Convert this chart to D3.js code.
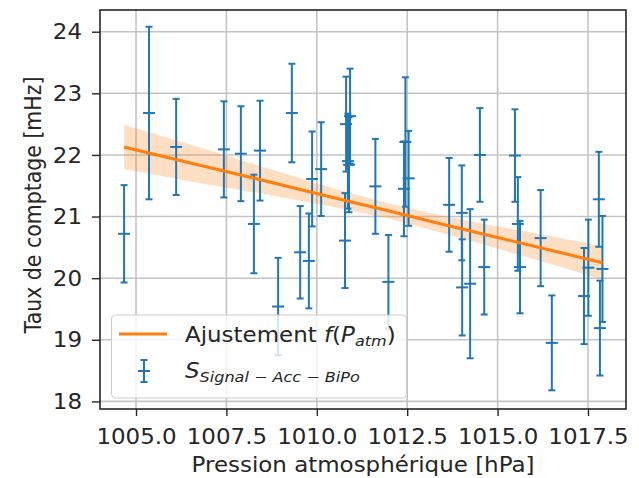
<!DOCTYPE html>
<html>
<head>
<meta charset="utf-8">
<script src="https://cdn.jsdelivr.net/npm/d3@7"></script>
<style>
  html, body { margin: 0; padding: 0; background: #ffffff; }
  svg { display: block; }
  text { font-family: "DejaVu Sans", sans-serif; fill: #262626; }
</style>
</head>
<body>
<svg id="chart" width="639" height="478"></svg>
<script>
// Atmospheric pressure (hPa) of each measurement period
const pressure = [
  1004.67, 1005.36, 1006.11, 1007.43, 1007.90, 1008.26, 1008.43, 1008.93,
  1009.31, 1009.54, 1009.78, 1009.87, 1010.12, 1010.78, 1010.81, 1010.86,
  1010.89, 1010.92, 1011.62, 1011.98, 1012.41, 1012.45, 1012.54, 1013.66,
  1014.01, 1014.02, 1014.24, 1014.51, 1014.63, 1015.48, 1015.56, 1015.62,
  1016.19, 1016.50, 1017.39, 1017.51, 1017.80, 1017.83, 1017.90
];
// Counting rate (mHz) measured in each period
const rate = [
  20.72, 22.68, 22.13, 22.09, 22.02, 20.88, 22.07, 19.54,
  22.68, 20.42, 20.28, 21.61, 21.77, 20.61, 22.50, 21.90,
  21.84, 22.63, 21.49, 19.94, 21.45, 22.21, 21.62, 21.19,
  21.06, 19.85, 19.91, 22.00, 20.18, 21.99, 20.88, 20.18,
  20.65, 18.95, 19.71, 20.17, 21.28, 19.19, 20.15
];
// Statistical uncertainty on each rate (mHz)
const rateErr = [
  0.79, 1.40, 0.78, 0.78, 0.77, 0.80, 0.81, 0.79,
  0.80, 0.75, 0.77, 0.77, 0.76, 0.77, 0.77, 0.77,
  0.77, 0.77, 0.77, 0.76, 0.77, 1.05, 0.77, 0.76,
  0.77, 0.78, 1.21, 0.76, 0.77, 0.75, 0.76, 0.75,
  0.78, 0.77, 0.78, 0.78, 0.77, 0.77, 0.86
];

// Linear fit f(P_atm) and its confidence band
const fitP     = [1004.67, 1006.5, 1008.5, 1010.5, 1012.0, 1013.5, 1015.0, 1016.5, 1017.90];
const fitRate  = [22.13, 21.87, 21.59, 21.30, 21.09, 20.87, 20.66, 20.45, 20.25];
const fitLow   = [21.77, 21.57, 21.37, 21.15, 20.97, 20.73, 20.48, 20.22, 19.98];
const fitHigh  = [22.49, 22.17, 21.81, 21.45, 21.21, 21.01, 20.84, 20.68, 20.52];

const xTicks = [1005.0, 1007.5, 1010.0, 1012.5, 1015.0, 1017.5];
const yTicks = [18, 19, 20, 21, 22, 23, 24];

const blue = "#1f77b4", orange = "#ff7f0e";
const plot = { left: 100, right: 626, top: 10, bottom: 409 };
const fontSize = 20.5, stretch = 1.12;   // glyphs are drawn slightly wide

const svg = d3.select("#chart");
const x = d3.scaleLinear().domain([1004.004, 1018.551]).range([plot.left, plot.right]);
const y = d3.scaleLinear().domain([17.877, 24.352]).range([plot.bottom, plot.top]);

// grid
const grid = svg.append("g");
grid.selectAll(".gx").data(xTicks).join("line")
  .attr("x1", d => x(d)).attr("x2", d => x(d))
  .attr("y1", plot.top).attr("y2", plot.bottom)
  .attr("stroke", "#c4c4c4").attr("stroke-width", 1.6);
grid.selectAll(".gy").data(yTicks).join("line")
  .attr("y1", d => y(d)).attr("y2", d => y(d))
  .attr("x1", plot.left).attr("x2", plot.right)
  .attr("stroke", "#c4c4c4").attr("stroke-width", 1.6);

// confidence band
const band = fitP.map((p, i) => ({ p, lo: fitLow[i], hi: fitHigh[i] }));
svg.append("path").datum(band)
  .attr("d", d3.area().x(d => x(d.p)).y0(d => y(d.lo)).y1(d => y(d.hi)))
  .attr("fill", orange).attr("fill-opacity", 0.25);

// error bars
const pts = pressure.map((p, i) => ({ p, r: rate[i], e: rateErr[i] }));
const eb = svg.append("g").attr("stroke", blue).attr("stroke-width", 2).attr("fill", "none");
const bars = eb.selectAll("g").data(pts).join("g");
bars.append("line")
  .attr("x1", d => x(d.p)).attr("x2", d => x(d.p))
  .attr("y1", d => y(d.r + d.e)).attr("y2", d => y(d.r - d.e));
bars.append("line")
  .attr("x1", d => x(d.p) - 3.5).attr("x2", d => x(d.p) + 3.5)
  .attr("y1", d => y(d.r + d.e)).attr("y2", d => y(d.r + d.e));
bars.append("line")
  .attr("x1", d => x(d.p) - 3.5).attr("x2", d => x(d.p) + 3.5)
  .attr("y1", d => y(d.r - d.e)).attr("y2", d => y(d.r - d.e));
bars.append("line")
  .attr("x1", d => x(d.p) - 6).attr("x2", d => x(d.p) + 6)
  .attr("y1", d => y(d.r)).attr("y2", d => y(d.r));

// fit line
svg.append("path").datum(fitP.map((p, i) => ({ p, r: fitRate[i] })))
  .attr("d", d3.line().x(d => x(d.p)).y(d => y(d.r)))
  .attr("fill", "none").attr("stroke", orange).attr("stroke-width", 3);

// axes
const xAxis = svg.append("g").attr("transform", `translate(0,${plot.bottom})`)
  .call(d3.axisBottom(x).tickValues(xTicks).tickFormat(d3.format(".1f")).tickSize(7));
const yAxis = svg.append("g").attr("transform", `translate(${plot.left},0)`)
  .call(d3.axisLeft(y).tickValues(yTicks).tickFormat(d3.format("d")).tickSize(8));
[xAxis, yAxis].forEach(a => {
  a.select(".domain").remove();
  a.selectAll("line").attr("stroke", "#262626").attr("stroke-width", 1.4);
  a.selectAll("text").attr("font-size", fontSize).attr("fill", "#262626")
    .style("font-family", '"DejaVu Sans", sans-serif');
});
xAxis.selectAll("text").attr("x", 0).attr("y", 0).attr("dy", null)
  .attr("transform", `translate(0,35) scale(${stretch},1)`);
yAxis.selectAll("text").attr("x", 0).attr("dy", "0.35em")
  .attr("transform", `translate(-18,0) scale(${stretch},1)`);

// frame
svg.append("rect")
  .attr("x", plot.left).attr("y", plot.top)
  .attr("width", plot.right - plot.left).attr("height", plot.bottom - plot.top)
  .attr("fill", "none").attr("stroke", "#262626").attr("stroke-width", 1.6);

// axis titles
svg.append("text")
  .attr("transform", `translate(${(plot.left + plot.right) / 2},472) scale(${stretch},1)`)
  .attr("text-anchor", "middle").attr("font-size", fontSize)
  .text("Pression atmosphérique [hPa]");
svg.append("text")
  .attr("transform", `translate(41,205) scale(${stretch},1) rotate(-90)`)
  .attr("text-anchor", "middle").attr("font-size", fontSize)
  .text("Taux de comptage [mHz]");

// legend
const lg = svg.append("g");
lg.append("rect").attr("x", 111.5).attr("y", 315).attr("width", 295).attr("height", 83)
  .attr("rx", 4).attr("fill", "#ffffff").attr("fill-opacity", 0.8)
  .attr("stroke", "#cccccc").attr("stroke-width", 1);
lg.append("line").attr("x1", 119).attr("x2", 167).attr("y1", 334).attr("y2", 334)
  .attr("stroke", orange).attr("stroke-width", 3);
const lm = lg.append("g").attr("stroke", blue).attr("stroke-width", 2);
lm.append("line").attr("x1", 144).attr("x2", 144).attr("y1", 360).attr("y2", 382);
lm.append("line").attr("x1", 140.5).attr("x2", 147.5).attr("y1", 360).attr("y2", 360);
lm.append("line").attr("x1", 140.5).attr("x2", 147.5).attr("y1", 382).attr("y2", 382);
lm.append("line").attr("x1", 138).attr("x2", 150).attr("y1", 371).attr("y2", 371);

const subSize = fontSize * 0.7;
const t1 = lg.append("text").attr("transform", `translate(185,342) scale(${stretch},1)`)
  .attr("font-size", fontSize);
t1.append("tspan").text("Ajustement ");
t1.append("tspan").attr("font-style", "italic").text("f");
t1.append("tspan").text("(");
t1.append("tspan").attr("font-style", "italic").text("P");
t1.append("tspan").attr("font-style", "italic").attr("font-size", subSize).attr("dy", 4).text("atm");
t1.append("tspan").attr("dy", -4).text(")");

const t2 = lg.append("text").attr("transform", `translate(185,378) scale(${stretch},1)`)
  .attr("font-size", fontSize);
t2.append("tspan").attr("font-style", "italic").text("S");
t2.append("tspan").attr("font-style", "italic").attr("font-size", subSize).attr("dy", 4)
  .text("Signal \u2212 Acc \u2212 BiPo");
</script>
</body>
</html>
